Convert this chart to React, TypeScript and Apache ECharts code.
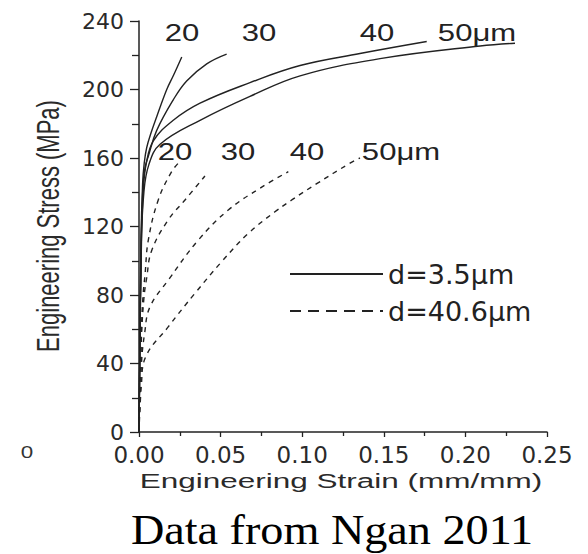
import React, { useEffect, useRef } from "react";
import * as echarts from "echarts";

// Curve labels (specimen thickness in μm)
const thicknessLabels = ["20", "30", "40", "50μm"];
const legendNames = ["d=3.5μm", "d=40.6μm"];
const xTickLabels = ["0.00", "0.05", "0.10", "0.15", "0.20", "0.25"];
const yTickLabels = ["0", "40", "80", "120", "160", "200", "240"];

// d = 3.5 μm (solid) : [strain, stress MPa]
const fine20: number[][] = [[0, 0], [0.0012, 110], [0.0022, 145], [0.0032, 157], [0.0047, 166], [0.0075, 175], [0.0108, 184], [0.017, 200], [0.021, 208], [0.0262, 219]];
const fine30: number[][] = [[0, 0], [0.0013, 110], [0.0025, 145], [0.0038, 155], [0.0057, 161], [0.0108, 176], [0.021, 194], [0.0292, 205], [0.0415, 215], [0.0537, 220.7]];
const fine40: number[][] = [[0, 0], [0.0014, 110], [0.0027, 142], [0.0045, 157], [0.0088, 170], [0.021, 182], [0.0374, 192], [0.068, 204], [0.0987, 214], [0.1354, 221], [0.1763, 228]];
const fine50: number[][] = [[0, 0], [0.0015, 110], [0.003, 140], [0.006, 156], [0.0129, 168], [0.0374, 182], [0.068, 196], [0.0987, 208], [0.1477, 218], [0.209, 225.4], [0.2304, 227]];

// d = 40.6 μm (dashed)
const coarse20: number[][] = [[0, 0], [0.0015, 60], [0.0025, 80], [0.0037, 92], [0.0057, 112], [0.0118, 135.5], [0.02, 152], [0.0251, 158]];
const coarse30: number[][] = [[0, 0], [0.0015, 55], [0.003, 78], [0.0047, 90], [0.0078, 106], [0.018, 124], [0.0282, 135.5], [0.0404, 149.5]];
const coarse40: number[][] = [[0, 0], [0.0015, 40], [0.0035, 58], [0.0067, 73], [0.018, 88.8], [0.0363, 112], [0.0547, 129.6], [0.0752, 143], [0.0915, 152]];
const coarse50: number[][] = [[0, 0], [0.0015, 28], [0.0037, 43], [0.018, 61.5], [0.0343, 81], [0.0507, 99.5], [0.067, 116], [0.0833, 128.6], [0.0936, 135.5], [0.1089, 145], [0.1293, 157], [0.1354, 160]];

const INK = "#222";

export default function App() {
  const ref = useRef<HTMLDivElement>(null);
  useEffect(() => {
    if (!ref.current) return;
    const chart = echarts.init(ref.current, null, { renderer: "svg" });
    const mk = (name: string, data: number[][], dashed: boolean) => ({
      type: "line",
      name,
      data,
      smooth: 0.4,
      symbol: "none",
      lineStyle: { color: INK, width: 1.4, type: dashed ? [5, 5] : "solid" },
      itemStyle: { color: INK },
      z: 3,
    });
    const labelFont = "'Liberation Sans', Arial, sans-serif";
    const lbl = (text: string, x: number, y: number) => ({
      type: "text",
      x,
      y,
      scaleX: 1.35,
      style: { text, fill: INK, font: `23px ${labelFont}`, align: "center", verticalAlign: "middle" },
    });
    chart.setOption({
      animation: false,
      backgroundColor: "#fff",
      grid: { left: 139, right: 41, top: 21, bottom: 122 },
      xAxis: {
        type: "value",
        min: 0,
        max: 0.25,
        interval: 0.05,
        axisLine: { show: true, lineStyle: { color: INK, width: 1.5 } },
        axisTick: { show: true, length: 5, lineStyle: { color: INK, width: 1.3 } },
        minorTick: { show: true, splitNumber: 2, length: 4, lineStyle: { color: INK, width: 1.3 } },
        splitLine: { show: false },
        axisLabel: {
          margin: 11,
          color: "#2a2a2a",
          fontSize: 23,
          fontFamily: "'DejaVu Sans', sans-serif",
          formatter: (v: number) => xTickLabels[Math.round(v / 0.05)] ?? "",
        },
      },
      yAxis: {
        type: "value",
        min: 0,
        max: 240,
        interval: 40,
        axisLine: { show: true, lineStyle: { color: INK, width: 1.5 } },
        axisTick: { show: true, length: 9, lineStyle: { color: INK, width: 1.3 } },
        minorTick: { show: true, splitNumber: 2, length: 7, lineStyle: { color: INK, width: 1.3 } },
        splitLine: { show: false },
        axisLabel: {
          margin: 15,
          color: "#2a2a2a",
          fontSize: 22,
          fontFamily: "'DejaVu Sans', sans-serif",
          formatter: (v: number) => yTickLabels[Math.round(v / 40)] ?? "",
        },
      },
      legend: {
        orient: "vertical",
        left: 284,
        top: 255,
        itemWidth: 93,
        itemHeight: 14,
        itemGap: 9,
        selectedMode: false,
        itemStyle: { opacity: 0, borderWidth: 0 },
        textStyle: { fontFamily: "'DejaVu Sans', sans-serif", fontSize: 27, color: INK, lineHeight: 28 },
        data: [
          { name: legendNames[0] },
          { name: legendNames[1], lineStyle: { type: [11, 7] } },
        ],
      },
      graphic: [
        lbl(thicknessLabels[0], 182, 33),
        lbl(thicknessLabels[1], 259, 33),
        lbl(thicknessLabels[2], 377, 33),
        lbl(thicknessLabels[3], 477, 33),
        lbl(thicknessLabels[0], 175, 152),
        lbl(thicknessLabels[1], 238, 152),
        lbl(thicknessLabels[2], 307, 152),
        lbl(thicknessLabels[3], 401, 152),
        {
          type: "text",
          x: 341,
          y: 481,
          scaleX: 1.5,
          style: { text: "Engineering Strain (mm/mm)", fill: "#2a2a2a", font: `21px ${labelFont}`, align: "center", verticalAlign: "middle" },
        },
        {
          type: "text",
          x: 49,
          y: 226,
          rotation: Math.PI / 2,
          scaleY: 1.4,
          style: { text: "Engineering Stress (MPa)", fill: "#2a2a2a", font: `22px ${labelFont}`, align: "center", verticalAlign: "middle" },
        },
        {
          type: "text",
          x: 27,
          y: 452,
          scaleX: 1.4,
          style: { text: "0", fill: "#333", font: `16px ${labelFont}`, align: "center", verticalAlign: "middle" },
        },
        {
          type: "text",
          x: 332,
          y: 530,
          scaleX: 1.1,
          style: { text: "Data from Ngan 2011", fill: "#000", font: "42px 'Liberation Serif', 'Times New Roman', serif", lineHeight: 42, align: "center", verticalAlign: "middle" },
        },
      ],
      series: [
        mk(legendNames[0], fine20, false),
        mk(legendNames[0], fine30, false),
        mk(legendNames[0], fine40, false),
        mk(legendNames[0], fine50, false),
        mk(legendNames[1], coarse20, true),
        mk(legendNames[1], coarse30, true),
        mk(legendNames[1], coarse40, true),
        mk(legendNames[1], coarse50, true),
      ],
    });
    return () => chart.dispose();
  }, []);
  return <div ref={ref} style={{ width: 588, height: 554, position: "absolute", left: 0, top: 0 }} />;
}
